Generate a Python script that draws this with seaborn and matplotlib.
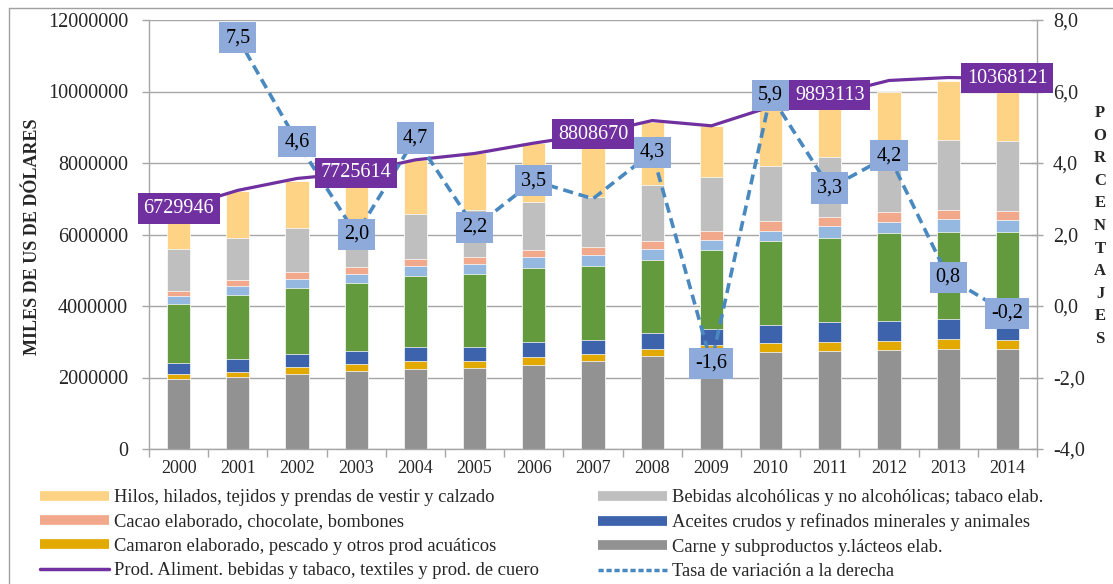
import numpy as np
import pandas as pd
import matplotlib
matplotlib.use("Agg")
import matplotlib.pyplot as plt
from matplotlib.lines import Line2D
import seaborn as sns

# categories
years = ["2000", "2001", "2002", "2003", "2004", "2005", "2006", "2007",
         "2008", "2009", "2010", "2011", "2012", "2013", "2014"]

# stacked bar series (miles de US$), bottom to top
carne = [1950000, 2022000, 2089000, 2173000, 2238000, 2275000, 2359000, 2452000,
         2610000, 2680000, 2722000, 2750000, 2769000, 2788000, 2788000]
camaron = [156000, 141000, 205000, 196000, 223000, 177000, 214000, 205000,
           196000, 220000, 243000, 252000, 261000, 280000, 261000]
aceites = [308000, 354000, 363000, 372000, 383000, 411000, 420000, 401000,
           430000, 448000, 504000, 541000, 559000, 560000, 559000]
otros_verde = [1633000, 1791000, 1855000, 1894000, 1995000, 2023000, 2079000, 2070000,
               2051000, 2227000, 2349000, 2368000, 2444000, 2451000, 2471000]
otros_celeste = [241000, 251000, 252000, 269000, 289000, 297000, 289000, 290000,
                 307000, 280000, 289000, 335000, 326000, 346000, 326000]
cacao = [140000, 159000, 196000, 195000, 195000, 196000, 214000, 224000,
         233000, 235000, 262000, 252000, 261000, 260000, 261000]
bebidas = [1166000, 1193000, 1230000, 1221000, 1259000, 1306000, 1343000, 1416000,
           1567000, 1510000, 1556000, 1678000, 1680000, 1958000, 1958000]
hilos = [1136000, 1319000, 1310000, 1410000, 1498000, 1585000, 1642000, 1752000,
         1761000, 1435000, 1695000, 1714000, 1700000, 1657000, 1676000]

# total line (left axis)
total_prod = [6729946, 7234692, 7567488, 7725614, 8088718, 8266670, 8556003, 8808670,
              9187443, 9040444, 9573830, 9893113, 10308624, 10391093, 10368121]
total_label_years = ["2000", "2003", "2007", "2011", "2014"]

# tasa de variacion (right axis), 2001-2014
tasa_years = years[1:]
tasa = [7.5, 4.6, 2.0, 4.7, 2.2, 3.5, 3.0, 4.3, -1.6, 5.9, 3.3, 4.2, 0.8, -0.2]
tasa_sin_etiqueta = ["2007"]

left_ticks = [0, 2000000, 4000000, 6000000, 8000000, 10000000, 12000000]
right_ticks = [-4.0, -2.0, 0.0, 2.0, 4.0, 6.0, 8.0]

labels = {
    "hilos": "Hilos, hilados, tejidos y prendas de vestir y calzado",
    "bebidas": "Bebidas alcohólicas y no alcohólicas; tabaco elab.",
    "cacao": "Cacao elaborado, chocolate, bombones",
    "aceites": "Aceites crudos y refinados minerales y animales",
    "camaron": "Camaron elaborado, pescado y otros prod acuáticos",
    "carne": "Carne y subproductos y.lácteos elab.",
    "total": "Prod. Aliment. bebidas y tabaco, textiles y prod. de cuero",
    "tasa": "Tasa de variación a la derecha",
}

colors = {
    "carne": "#929292",
    "camaron": "#E2AA00",
    "aceites": "#3C63AC",
    "otros_verde": "#629A3D",
    "otros_celeste": "#95B8E0",
    "cacao": "#F2A88B",
    "bebidas": "#BFBFBF",
    "hilos": "#FFD386",
}
PURPLE = "#7030A0"
DASH_BLUE = "#4A89C0"
BOX_BLUE = "#8EAADB"
GRID = "#A6A6A6"

W, H = 1113, 584

sns.set_theme(style="white")
plt.rcParams["font.family"] = ["Liberation Serif", "DejaVu Serif"]

df = pd.DataFrame({
    "year": years,
    "carne": carne,
    "camaron": camaron,
    "aceites": aceites,
    "otros_verde": otros_verde,
    "otros_celeste": otros_celeste,
    "cacao": cacao,
    "bebidas": bebidas,
    "hilos": hilos,
})
stack_cols = ["carne", "camaron", "aceites", "otros_verde",
              "otros_celeste", "cacao", "bebidas", "hilos"]
cum = df[stack_cols].cumsum(axis=1)

fig = plt.figure(figsize=(W / 100, H / 100), dpi=100)
ax = fig.add_axes([149 / W, 1 - 449 / H, (1037 - 149) / W, (449 - 20) / H])

# stacked bars: draw cumulative heights from the top segment down
for col in reversed(stack_cols):
    sns.barplot(
        x=df["year"],
        y=cum[col],
        color=colors[col],
        saturation=1,
        width=0.39,
        edgecolor="white",
        linewidth=0.5,
        ax=ax,
        zorder=2,
    )

pos = np.arange(len(years))
sns.lineplot(x=pos, y=total_prod, color=PURPLE, linewidth=2.3, ax=ax, zorder=3)

ax.set_ylim(0, 12000000)
ax.set_xlim(-0.5, len(years) - 0.5)
ax.set_yticks(left_ticks)
ax.set_yticklabels([str(v) for v in left_ticks])
ax.set_xticks(pos)
ax.set_xticklabels(years)
ax.set_xticks(np.arange(len(years) + 1) - 0.5, minor=True)
ax.set_xlabel("")
ax.set_ylabel("")
ax.set_axisbelow(True)
ax.yaxis.grid(True, color=GRID, linewidth=1)
ax.xaxis.grid(False)
ax.tick_params(axis="y", which="major", left=True, length=5, width=1,
               color=GRID, direction="out", pad=10, labelsize=14.5)
ax.tick_params(axis="x", which="major", length=0, pad=8, labelsize=13)
ax.tick_params(axis="x", which="minor", bottom=True, length=6, width=1,
               color=GRID, direction="out")
for side in ["top", "right"]:
    ax.spines[side].set_visible(False)
for side in ["left", "bottom"]:
    ax.spines[side].set_color(GRID)
    ax.spines[side].set_linewidth(1)

# right axis: tasa de variacion
ax2 = ax.twinx()
sns.lineplot(x=pos[1:], y=tasa, color=DASH_BLUE, linewidth=2.6,
             linestyle=(0, (2.8, 1.6)), ax=ax2, zorder=3)
ax2.set_ylim(-4, 8)
ax2.set_xlim(-0.5, len(years) - 0.5)
ax2.set_yticks(right_ticks)
ax2.set_yticklabels([f"{v:.1f}".replace(".", ",") for v in right_ticks])
ax2.set_ylabel("")
ax2.tick_params(axis="y", right=True, length=9, width=1, color=GRID,
                direction="inout", pad=7, labelsize=14.5)
for side in ["top", "left", "bottom"]:
    ax2.spines[side].set_visible(False)
ax2.spines["right"].set_color(GRID)
ax2.spines["right"].set_linewidth(1)

# data labels
for yr, val in zip(years, total_prod):
    if yr in total_label_years:
        i = years.index(yr)
        ax2.annotate(
            str(val),
            xy=(i, val),
            xycoords=ax.transData,
            ha="center",
            va="center",
            color="white",
            fontsize=14.5,
            bbox=dict(boxstyle="square,pad=0.28", fc=PURPLE, ec="none"),
            zorder=5,
            annotation_clip=False,
        )

for yr, val in zip(tasa_years, tasa):
    if yr in tasa_sin_etiqueta:
        continue
    i = years.index(yr)
    ax2.annotate(
        f"{val:.1f}".replace(".", ","),
        xy=(i, val),
        ha="center",
        va="center",
        color="black",
        fontsize=14.5,
        bbox=dict(boxstyle="square,pad=0.3", fc=BOX_BLUE, ec="none"),
        zorder=6,
        annotation_clip=False,
    )

# axis titles
fig.text(33 / W, 1 - 237 / H, "MILES DE US DE DÓLARES", rotation=90,
         ha="center", va="center", fontsize=13, fontweight="bold")
fig.text(1100 / W, 1 - 226 / H, "\n".join("PORCENTAJES"), ha="center",
         va="center", fontsize=12, fontweight="bold", linespacing=1.55)

# outer chart border (left and top edges visible)
fig.add_artist(Line2D([9 / W, 9 / W], [0, 1 - 8 / H], color="#A0A0A0",
                      linewidth=1, transform=fig.transFigure))
fig.add_artist(Line2D([9 / W, 1], [1 - 8 / H, 1 - 8 / H], color="#A0A0A0",
                      linewidth=1, transform=fig.transFigure))


# legend (column-wise order)
def patch_handle(key):
    return Line2D([0], [0], color=colors[key], linewidth=7, solid_capstyle="butt")


handles = [
    patch_handle("hilos"),
    patch_handle("cacao"),
    patch_handle("camaron"),
    Line2D([0], [0], color=PURPLE, linewidth=2.5),
    patch_handle("bebidas"),
    patch_handle("aceites"),
    patch_handle("carne"),
    Line2D([0], [0], color=DASH_BLUE, linewidth=2.5, linestyle=(0, (1.5, 0.8))),
]
legend_labels = [labels["hilos"], labels["cacao"], labels["camaron"], labels["total"],
                 labels["bebidas"], labels["aceites"], labels["carne"], labels["tasa"]]
fig.legend(
    handles,
    legend_labels,
    ncol=2,
    loc="upper left",
    bbox_to_anchor=(40 / W, 1 - 489 / H),
    frameon=False,
    fontsize=13.3,
    handlelength=3.75,
    handletextpad=0.25,
    columnspacing=3.2,
    labelspacing=0.4,
    borderpad=0,
    borderaxespad=0,
)

fig.savefig("out.png", dpi=100)
plt.close(fig)
